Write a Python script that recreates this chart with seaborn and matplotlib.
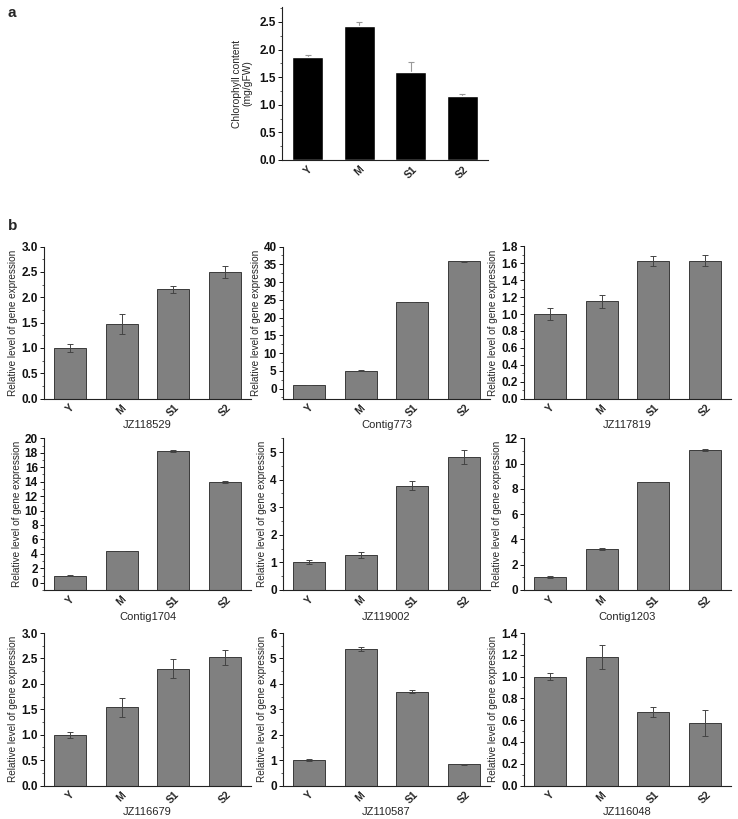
import matplotlib
matplotlib.use("Agg")
import matplotlib.pyplot as plt
import seaborn as sns
import pandas as pd
import numpy as np
from matplotlib.ticker import MultipleLocator, AutoMinorLocator, FormatStrFormatter

sns.set_style("ticks")
plt.rcParams['font.family'] = ['Liberation Sans', 'DejaVu Sans']

stages = ["Y", "M", "S1", "S2"]

# panel a
chl_values = [1.87, 2.43, 1.59, 1.15]
chl_err = [0.04, 0.06, 0.18, 0.05]

# panel b genes
genes = ["JZ118529", "Contig773", "JZ117819",
         "Contig1704", "JZ119002", "Contig1203",
         "JZ116679", "JZ110587", "JZ116048"]
JZ118529 = [1.00, 1.47, 2.16, 2.50]
JZ118529_err = [0.08, 0.19, 0.07, 0.12]
Contig773 = [1.0, 5.05, 24.4, 35.9]
Contig773_err = [0.05, 0.12, 0.08, 0.15]
JZ117819 = [1.00, 1.15, 1.63, 1.63]
JZ117819_err = [0.07, 0.08, 0.06, 0.065]
Contig1704 = [1.0, 4.4, 18.2, 13.95]
Contig1704_err = [0.08, 0.05, 0.15, 0.08]
JZ119002 = [1.00, 1.28, 3.78, 4.82]
JZ119002_err = [0.07, 0.11, 0.17, 0.24]
Contig1203 = [1.00, 3.22, 8.55, 11.05]
Contig1203_err = [0.08, 0.07, 0.03, 0.08]
JZ116679 = [1.00, 1.54, 2.30, 2.52]
JZ116679_err = [0.06, 0.19, 0.19, 0.15]
JZ110587 = [1.01, 5.37, 3.69, 0.83]
JZ110587_err = [0.03, 0.08, 0.05, 0.02]
JZ116048 = [1.00, 1.18, 0.677, 0.575]
JZ116048_err = [0.035, 0.11, 0.045, 0.12]

values = [JZ118529, Contig773, JZ117819, Contig1704, JZ119002, Contig1203,
          JZ116679, JZ110587, JZ116048]
errors = [JZ118529_err, Contig773_err, JZ117819_err, Contig1704_err, JZ119002_err,
          Contig1203_err, JZ116679_err, JZ110587_err, JZ116048_err]
ylims = [(0, 3.0), (-2.8, 40), (0, 1.8), (-1.0, 20), (0, 5.5), (0, 12),
         (0, 3.0), (0, 6), (0, 1.4)]
ysteps = [0.5, 5, 0.2, 2, 1, 2, 0.5, 1, 0.2]
yfmts = ["%.1f", "%d", "%.1f", "%d", "%d", "%d", "%.1f", "%d", "%.1f"]

W, H = 738, 819
fig = plt.figure(figsize=(W / 100, H / 100), dpi=100)


def style_axis(ax, step, fmt, ylim):
    ax.set_xlim(-0.5, 3.5)
    ax.set_ylim(*ylim)
    ax.yaxis.set_major_locator(MultipleLocator(step))
    ax.yaxis.set_minor_locator(AutoMinorLocator(2))
    ax.yaxis.set_major_formatter(FormatStrFormatter(fmt))
    sns.despine(ax=ax)
    for s in ["left", "bottom"]:
        ax.spines[s].set_linewidth(0.8)
        ax.spines[s].set_color("#222222")
    ax.tick_params(axis="y", which="major", length=3, width=0.7, direction="out",
                   labelsize=8.5, pad=1.5, colors="#111111")
    ax.tick_params(axis="y", which="minor", length=1.8, width=0.6, direction="out",
                   colors="#444444")
    ax.tick_params(axis="x", length=0, pad=3, labelsize=7.5)
    for lab in ax.get_yticklabels():
        lab.set_fontweight("bold")
    for lab in ax.get_xticklabels():
        lab.set_rotation(45)
        lab.set_fontweight("bold")
        lab.set_ha("center")
        lab.set_va("top")
    # bars rise from the bottom of the axis (as in the original software)
    y0 = ylim[0]
    if y0 < 0:
        for p in ax.patches:
            topv = p.get_y() + p.get_height()
            p.set_y(y0)
            p.set_height(topv - y0)


# ---- panel a ----
axa = fig.add_axes([282 / W, 1 - 160 / H, 206 / W, 153 / H])
dfa = pd.DataFrame({"stage": stages, "value": chl_values})
sns.barplot(data=dfa, x="stage", y="value", ax=axa, color="black", width=0.6,
            errorbar=None, saturation=1, zorder=2)
axa.errorbar(range(4), chl_values, yerr=chl_err, fmt="none", ecolor="#999999",
             elinewidth=0.8, capsize=2, capthick=0.8, zorder=1)
axa.set_xlabel("")
axa.set_ylabel("Chlorophyll content\n(mg/gFW)", fontsize=7.4, labelpad=5,
               linespacing=1.1)
style_axis(axa, 0.5, "%.1f", (0, 2.77))
fig.text(8 / W, 1 - 13 / H, "a", fontsize=11, fontweight="bold", va="center")
fig.text(8 / W, 1 - 226 / H, "b", fontsize=11, fontweight="bold", va="center")

# ---- panel b ----
lefts = [44, 283, 524]
rows = [(246.5, 398.5), (438.3, 590), (633, 785.5)]
for i, gene in enumerate(genes):
    r, c = divmod(i, 3)
    top, bot = rows[r]
    ax = fig.add_axes([lefts[c] / W, 1 - bot / H, 207 / W, (bot - top) / H])
    df = pd.DataFrame({"stage": stages, "value": values[i]})
    sns.barplot(data=df, x="stage", y="value", ax=ax, color="#808080", width=0.62,
                errorbar=None, saturation=1, edgecolor="#3a3a3a", linewidth=0.7)
    ax.errorbar(range(4), values[i], yerr=errors[i], fmt="none", ecolor="#444444",
                elinewidth=0.7, capsize=2, capthick=0.7, zorder=5)
    ax.set_xlabel(gene, fontsize=8, labelpad=1)
    ax.set_ylabel("Relative level of gene expression", fontsize=7.2, labelpad=2)
    style_axis(ax, ysteps[i], yfmts[i], ylims[i])

fig.savefig("out.png", dpi=100)
